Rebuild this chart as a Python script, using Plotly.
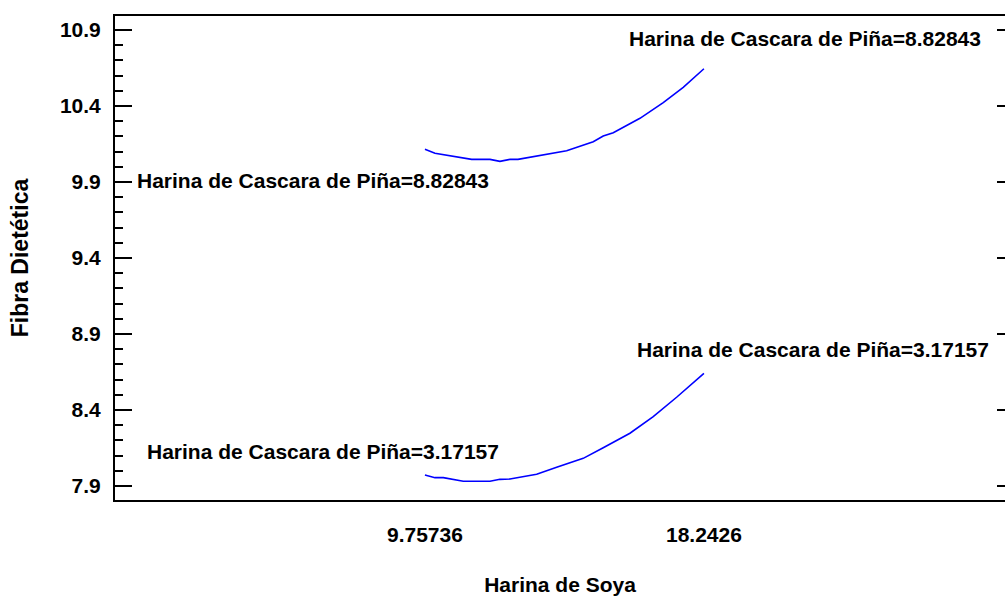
import plotly.graph_objects as go

# Data
soya_hi = [9.757, 10.062, 11.178, 11.735, 12.038, 12.343, 12.586, 13.255, 14.067,
           14.876, 15.18, 15.485, 16.297, 17.005, 17.613, 18.2426]
fibra_hi = [10.115, 10.089, 10.049, 10.049, 10.036, 10.049, 10.049, 10.076, 10.106,
            10.165, 10.203, 10.224, 10.319, 10.422, 10.523, 10.645]

soya_lo = [9.757, 10.062, 10.315, 10.923, 11.735, 12.038, 12.343, 13.155, 13.763,
           14.572, 15.18, 15.992, 16.701, 17.108, 17.412, 18.2426]
fibra_lo = [7.972, 7.955, 7.955, 7.931, 7.931, 7.944, 7.946, 7.977, 8.023,
            8.082, 8.152, 8.247, 8.356, 8.426, 8.484, 8.641]

x_tickvals = [9.75736, 18.2426]
x_ticktext = ["9.75736", "18.2426"]
y_tickvals = [7.9, 8.4, 8.9, 9.4, 9.9, 10.4, 10.9]
y_ticktext = ["7.9", "8.4", "8.9", "9.4", "9.9", "10.4", "10.9"]

label_hi = "Harina de Cascara de Piña=8.82843"
label_lo = "Harina de Cascara de Piña=3.17157"

FONT = "Liberation Sans, Arial, sans-serif"
BLUE = "#0000FF"
FS = 21

fig = go.Figure()
fig.add_trace(go.Scatter(x=soya_hi, y=fibra_hi, mode="lines",
                         line=dict(color=BLUE, width=1.6), showlegend=False,
                         hoverinfo="skip"))
fig.add_trace(go.Scatter(x=soya_lo, y=fibra_lo, mode="lines",
                         line=dict(color=BLUE, width=1.6), showlegend=False,
                         hoverinfo="skip"))
# empty trace to activate the right-hand tick axis
fig.add_trace(go.Scatter(x=[], y=[], yaxis="y2", showlegend=False,
                         hoverinfo="skip"))

ann_font = dict(family=FONT, size=FS, color="black", weight="bold")
annotations = [
    dict(x=15.901, y=10.847, text=label_hi),
    dict(x=0.937, y=9.907, text=label_hi),
    dict(x=16.144, y=8.801, text=label_lo),
    dict(x=1.242, y=8.124, text=label_lo),
]
for a in annotations:
    fig.add_annotation(x=a["x"], y=a["y"], text=a["text"], xref="x", yref="y",
                       xanchor="left", yanchor="middle", showarrow=False,
                       font=ann_font)

fig.update_layout(
    width=1005, height=597,
    margin=dict(l=115, r=0, t=16, b=97),
    paper_bgcolor="white", plot_bgcolor="white",
    font=dict(family=FONT, size=FS, color="black", weight="bold"),
    xaxis=dict(
        range=[0.33, 27.4], tickvals=x_tickvals, ticktext=x_ticktext,
        ticks="", showgrid=False, zeroline=False,
        showline=True, linecolor="black", linewidth=2, mirror=True,
        ticklabelstandoff=15,
        tickfont=dict(family=FONT, size=FS, color="black", weight="bold"),
        title=dict(text="Harina de Soya", standoff=32,
                   font=dict(family=FONT, size=FS, color="black", weight="bold")),
    ),
    yaxis=dict(
        range=[7.808, 10.992], tickvals=y_tickvals, ticktext=y_ticktext,
        ticks="inside", ticklen=17, tickwidth=2, tickcolor="black",
        minor=dict(dtick=0.1, tick0=7.9, ticks="inside", ticklen=8,
                   tickwidth=2, tickcolor="black", showgrid=False),
        showgrid=False, zeroline=False,
        showline=True, linecolor="black", linewidth=2,
        ticklabelstandoff=8,
        tickfont=dict(family=FONT, size=FS, color="black", weight="bold"),
        title=dict(text="Fibra Dietética", standoff=25,
                   font=dict(family=FONT, size=23, color="black", weight="bold")),
    ),
    yaxis2=dict(
        overlaying="y", side="right", range=[7.808, 10.992],
        tickvals=y_tickvals, ticks="inside", ticklen=8, tickwidth=2,
        tickcolor="black", showticklabels=False, showgrid=False,
        zeroline=False, showline=False,
    ),
)

fig.write_html("out.html", config={"displayModeBar": False},
               post_script="document.body.style.margin='0';")
